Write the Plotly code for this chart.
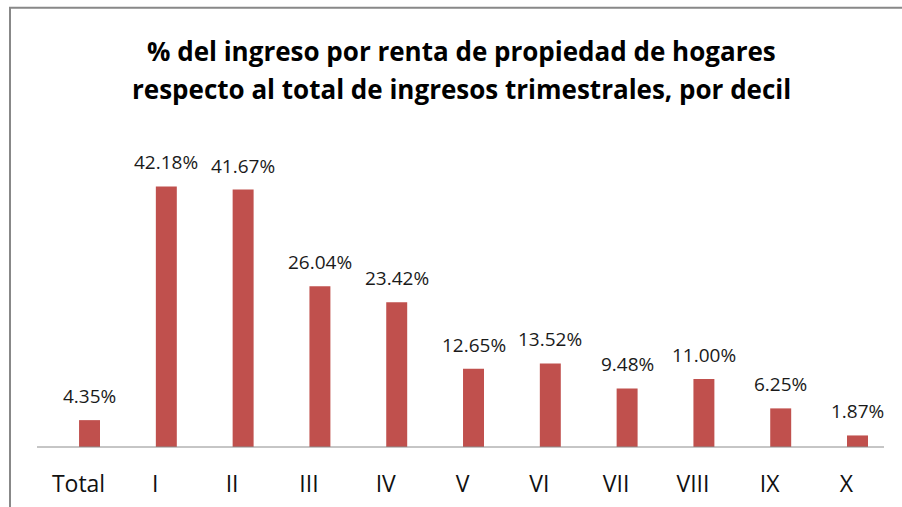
import plotly.graph_objects as go

categories = ["Total", "I", "II", "III", "IV", "V", "VI", "VII", "VIII", "IX", "X"]
values = [4.35, 42.18, 41.67, 26.04, 23.42, 12.65, 13.52, 9.48, 11.00, 6.25, 1.87]
labels = [f"{v:.2f}%" for v in values]
title_lines = ["% del ingreso por renta de propiedad de hogares",
               "respecto al total de ingresos trimestrales, por decil"]

W, H = 902, 507
L, R, T, B = 37, 18, 168.5, 60
ph = H - T - B
pw = W - L - R
FONT = "Open Sans"

fig = go.Figure(go.Bar(
    x=categories, y=values,
    marker=dict(color="#C0504D", line=dict(width=0)),
    cliponaxis=False, width=0.273,
))

for c, v, t in zip(categories, values, labels):
    fig.add_annotation(x=c, y=v, text=t, showarrow=False, xanchor="center", yanchor="middle",
                       yshift=24, font=dict(family=FONT, size=19, color="#1a1a1a"))

fig.update_layout(
    width=W, height=H, margin=dict(l=L, r=R, t=T, b=B),
    paper_bgcolor="white", plot_bgcolor="white",
    showlegend=False,
    xaxis=dict(showline=False, ticks="", automargin=False, range=[-0.684, 10.345],
               tickfont=dict(family=FONT, size=23, color="#111"), ticklabelstandoff=21,
               ticklabelshift=-11),
    yaxis=dict(visible=False, range=[0, 45], automargin=False),
)

# x axis baseline
fig.add_shape(type="line", xref="paper", yref="paper", x0=0, x1=1, y0=0, y1=0,
              line=dict(color="#8c8c8c", width=1))

# title lines
for line, ypx in zip(title_lines, [50, 88]):
    fig.add_annotation(text=f"<b>{line}</b>", xref="paper", yref="paper",
                       x=(461 - L) / pw, y=(H - B - ypx) / ph, xanchor="center", yanchor="middle",
                       showarrow=False, font=dict(family=FONT, size=26, color="#000"))

# chart border
fig.add_shape(type="rect", xref="paper", yref="paper",
              x0=(10 - L) / pw, x1=(W + 20 - L) / pw,
              y0=(H - B - (H + 20)) / ph, y1=(H - B - 7) / ph,
              line=dict(color="#888888", width=2), fillcolor="rgba(0,0,0,0)", layer="below")

fig.write_html("out.html", config={"displayModeBar": False},
               post_script="document.body.style.margin='0';document.body.style.overflow='hidden';")
